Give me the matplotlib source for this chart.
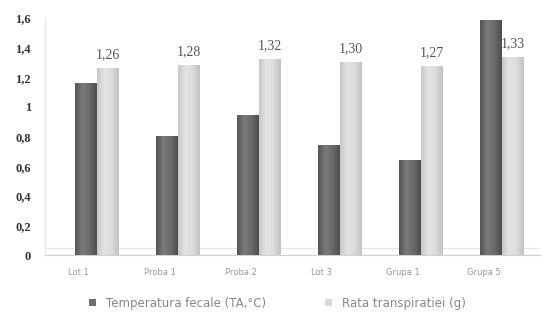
import matplotlib
matplotlib.use("Agg")
import matplotlib.pyplot as plt
from matplotlib.colors import LinearSegmentedColormap
import numpy as np

# data
categories = ["Lot 1", "Proba 1", "Proba 2", "Lot 3", "Grupa 1", "Grupa 5"]
temperatura = [1.16, 0.80, 0.94, 0.74, 0.64, 1.58]
rata = [1.26, 1.28, 1.32, 1.30, 1.27, 1.33]
rata_labels = ["1,26", "1,28", "1,32", "1,30", "1,27", "1,33"]
yticks = [0, 0.2, 0.4, 0.6, 0.8, 1.0, 1.2, 1.4, 1.6]
ytick_labels = ["0", "0,2", "0,4", "0,6", "0,8", "1", "1,2", "1,4", "1,6"]
legend_names = ["Temperatura fecale (TA,°C)", "Rata transpiratiei (g)"]

dark = "#6e6e6e"
light = "#d9d9d9"
dark_cmap = LinearSegmentedColormap.from_list("d", ["#555555", "#7a7a7a", "#6a6a6a", "#4e4e4e"])
light_cmap = LinearSegmentedColormap.from_list("l", ["#c8c8c8", "#e4e4e4", "#dcdcdc", "#c2c2c2"])

fig = plt.figure(figsize=(5.53, 3.27), dpi=100)
ax = fig.add_axes([0.081, 0.22, 0.895, 0.725])

x = np.arange(len(categories))
w = 0.27
b1 = ax.bar(x - w / 2, temperatura, w, color=dark, edgecolor="none",
            label=legend_names[0], zorder=3)
b2 = ax.bar(x + w / 2, rata, w, color=light, edgecolor="none",
            label=legend_names[1], zorder=2)

# cylinder-like shading on every bar
grad = np.linspace(0, 1, 64).reshape(1, -1)
for bars, cmap, z in [(b1, dark_cmap, 3.5), (b2, light_cmap, 2.5)]:
    for r in bars:
        x0, y0 = r.get_x(), r.get_y()
        ax.imshow(grad, cmap=cmap, aspect="auto", zorder=z,
                  extent=[x0, x0 + r.get_width(), y0, y0 + r.get_height()])

# value labels over the light bars
for xi, v, lab in zip(x, rata, rata_labels):
    ax.text(xi + w / 2, v + 0.05, lab, ha="center", va="bottom", fontsize=10,
            family="Liberation Serif", color="#555555")

ax.set_xlim(-0.64, 5.47)
ax.set_ylim(0, 1.6)
ax.set_yticks(yticks)
ax.set_yticklabels(ytick_labels, family="Liberation Serif", fontweight="bold",
                   fontsize=9, color="#333333")
ax.set_xticks(x - 0.22)
ax.set_xticklabels(categories, fontsize=6, color="#9a9a9a")
ax.tick_params(axis="both", length=0)
ax.tick_params(axis="x", pad=9)
ax.tick_params(axis="y", pad=10)

for s in ["top", "right"]:
    ax.spines[s].set_visible(False)
ax.spines["left"].set_color("#e6e6e6")
ax.spines["bottom"].set_color("#d0d0d0")

# floor of the 3d chart
ax.axhline(0.045, color="#e8e8e8", linewidth=0.8, zorder=1)

ax.legend(loc="upper center", bbox_to_anchor=(0.47, -0.13), ncol=2, frameon=False,
          fontsize=8.5, handlelength=0.6, handleheight=0.6, columnspacing=5,
          labelcolor="#888888")

plt.savefig("out.png", dpi=100)
